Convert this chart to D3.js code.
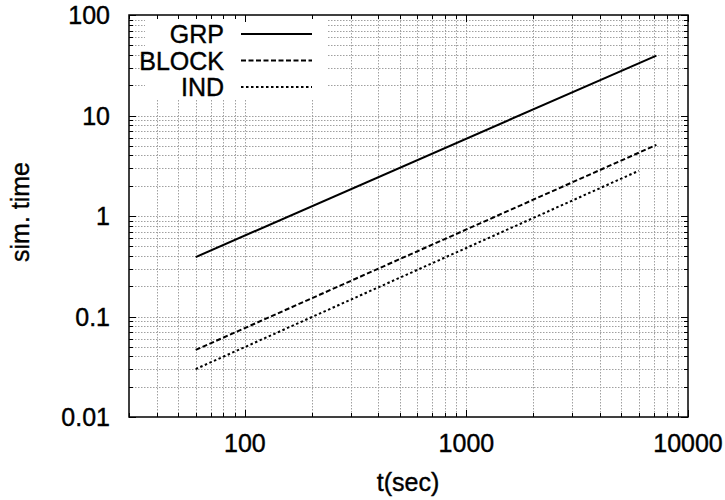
<!DOCTYPE html>
<html><head><meta charset="utf-8">
<script src="https://cdn.jsdelivr.net/npm/d3@7"></script>
<style>body{margin:0;background:#fff}svg{display:block}text{font-family:"Liberation Sans",Arial,sans-serif;fill:#000;stroke:#000;stroke-width:0.4px}</style>
</head><body><div id="chart"></div>
<script>
const seriesNames = ["GRP", "BLOCK", "IND"];
const grpT = [60, 7200];
const grpV = [0.39, 39.5];
const blockT = [60, 7200];
const blockV = [0.0465, 5.1];
const indT = [60, 6000];
const indV = [0.030, 2.82];
const xTickLabels = [100, 1000, 10000];
const yTickLabels = [0.01, 0.1, 1, 10, 100];
const xLabel = "t(sec)";
const yLabel = "sim. time";

const W = 725, H = 500;
const m = {left:129, right:725-688, top:15, bottom:500-417};
const svg = d3.select("#chart").append("svg").attr("width", W).attr("height", H);
const x = d3.scaleLog().domain([30, 10000]).range([m.left, W - m.right]);
const y = d3.scaleLog().domain([0.01, 100]).range([H - m.bottom, m.top]);
const x0 = m.left, x1 = W - m.right, y0 = H - m.bottom, y1 = m.top;
const FS = 25;

const xTicks = [];
for (let d = 10; d <= 10000; d *= 10) for (let k = 1; k <= 9; k++) { const v = d * k; if (v >= 30 && v <= 10000) xTicks.push(v); }
const yTicks = [];
for (let d = 0.01; d <= 100; d *= 10) for (let k = 1; k <= 9; k++) { const v = +(d * k).toPrecision(3); if (v >= 0.01 && v <= 100.0001) yTicks.push(v); }
const isMajor = v => Math.abs(Math.log10(v) - Math.round(Math.log10(v))) < 1e-6;

const lgL = 145, lgR = 328, lgB = 100;

const grid = svg.append("g").attr("stroke", "#a0a0a0").attr("stroke-width", 1).attr("stroke-dasharray", "1.5,1.5").attr("fill", "none");
xTicks.filter(v => v > 30 && v < 10000).forEach(v => {
  const px = Math.round(x(v)) + 0.5;
  const top = (px > lgL && px < lgR) ? lgB : y1;
  grid.append("line").attr("x1", px).attr("x2", px).attr("y1", top).attr("y2", y0);
});
yTicks.filter(v => v > 0.01 && v < 100).forEach(v => {
  const py = Math.round(y(v)) + 0.5;
  if (py < lgB) {
    grid.append("line").attr("x1", x0).attr("x2", lgL).attr("y1", py).attr("y2", py);
    grid.append("line").attr("x1", lgR).attr("x2", x1).attr("y1", py).attr("y2", py);
  } else {
    grid.append("line").attr("x1", x0).attr("x2", x1).attr("y1", py).attr("y2", py);
  }
});

const tk = svg.append("g").attr("stroke", "#000").attr("stroke-width", 1);
xTicks.forEach(v => {
  const px = Math.round(x(v)) + 0.5, L = isMajor(v) ? 7 : 4;
  tk.append("line").attr("x1", px).attr("x2", px).attr("y1", y0).attr("y2", y0 - L);
  tk.append("line").attr("x1", px).attr("x2", px).attr("y1", y1).attr("y2", y1 + L);
});
yTicks.forEach(v => {
  const py = Math.round(y(v)) + 0.5, L = isMajor(v) ? 7 : 4;
  tk.append("line").attr("x1", x0).attr("x2", x0 + L).attr("y1", py).attr("y2", py);
  tk.append("line").attr("x1", x1).attr("x2", x1 - L).attr("y1", py).attr("y2", py);
});

svg.append("rect").attr("x", x0).attr("y", y1).attr("width", x1 - x0).attr("height", y0 - y1)
  .attr("fill", "none").attr("stroke", "#000").attr("stroke-width", 1.5);

svg.append("g").selectAll("text").data(xTickLabels).join("text")
  .attr("x", d => x(d)).attr("y", y0 + 35).attr("text-anchor", "middle").attr("font-size", FS).text(d => d);
svg.append("g").selectAll("text").data(yTickLabels).join("text")
  .attr("x", 110).attr("y", d => y(d) + 9).attr("text-anchor", "end").attr("font-size", FS).text(d => d);

svg.append("text").attr("x", 408).attr("y", 491).attr("text-anchor", "middle").attr("font-size", FS).text(xLabel);
svg.append("text").attr("transform", "translate(29,212) rotate(-90)").attr("text-anchor", "middle").attr("font-size", FS).text(yLabel);

const dashes = [null, "5,2.5", "2.5,2.5"];
const series = [[grpT, grpV], [blockT, blockV], [indT, indV]];
const line = d3.line().x(d => x(d[0])).y(d => y(d[1]));
series.forEach(([t, v], i) => {
  svg.append("path").datum(t.map((tt, j) => [tt, v[j]])).attr("d", line)
    .attr("fill", "none").attr("stroke", "#000").attr("stroke-width", 2)
    .attr("stroke-dasharray", dashes[i]);
});

seriesNames.forEach((n, i) => {
  const ly = 34 + i * 26.5;
  svg.append("text").attr("x", 224).attr("y", ly + 9).attr("text-anchor", "end").attr("font-size", FS).text(n);
  svg.append("line").attr("x1", 241).attr("x2", 312).attr("y1", ly).attr("y2", ly)
    .attr("stroke", "#000").attr("stroke-width", 2).attr("stroke-dasharray", dashes[i]);
});
</script></body></html>
